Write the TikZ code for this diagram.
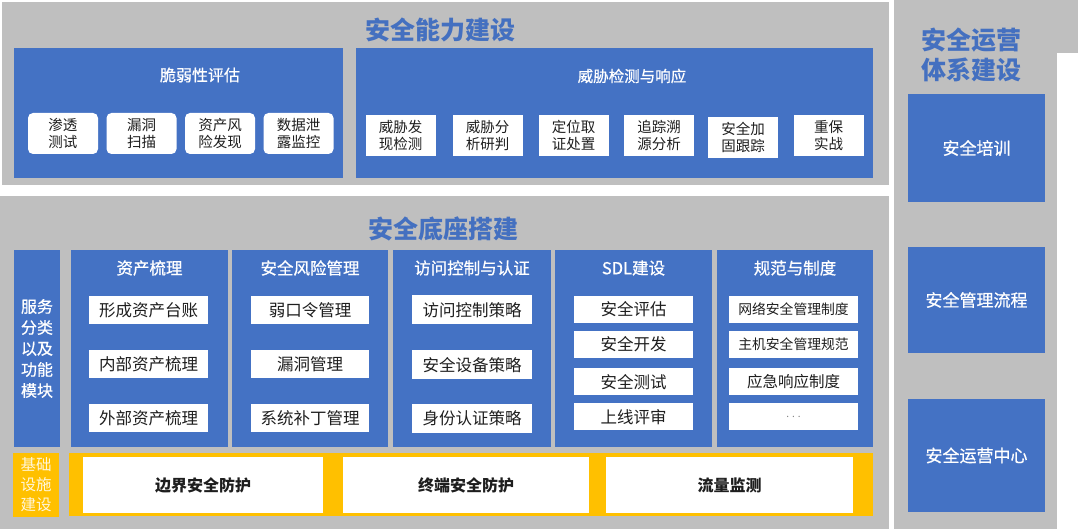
\documentclass[tikz,border=0pt]{standalone}
\usepackage{fontspec}
\setmainfont{Noto Sans CJK SC}
\newfontfamily\semibf[FakeBold=0.7]{Noto Sans CJK SC}
\definecolor{blu}{HTML}{4472C4}
\definecolor{gry}{HTML}{BFBFBF}
\definecolor{ylw}{HTML}{FFC000}
\definecolor{ttl}{HTML}{4470C0}
\definecolor{ink}{HTML}{1E1E1E}
\tikzset{
  panel/.style={fill=gry, draw=none, inner sep=0pt, outer sep=0pt},
  bluebox/.style={fill=blu, draw=none, text=white, inner sep=0pt, outer sep=0pt, align=center},
  wbox/.style={fill=white, draw=none, text=ink, inner sep=0pt, outer sep=0pt, align=center},
  ybox/.style={fill=ylw, draw=none, text=white, inner sep=0pt, outer sep=0pt, align=center},
  bigtitle/.style={text=ttl, inner sep=0pt, align=center, font=\bfseries\fontsize{25}{30}\selectfont},
  subtitle/.style={text=white, inner sep=0pt, font=\semibf\fontsize{16}{20}\selectfont},
  coltitle/.style={text=white, inner sep=0pt, font=\semibf\fontsize{16.5}{20}\selectfont},
  smallbox/.style={wbox, rounded corners=5pt, minimum width=70pt, minimum height=41pt, font=\fontsize{14.5}{17}\selectfont},
  sqbox/.style={wbox, minimum width=70pt, minimum height=41pt, font=\fontsize{14.5}{17}\selectfont},
  itembox/.style={wbox, minimum height=28pt, font=\fontsize{16.5}{20}\selectfont},
  basebox/.style={wbox, minimum height=56pt, font=\bfseries\fontsize{16}{20}\selectfont},
  opsbox/.style={bluebox, minimum width=137pt, font=\semibf\fontsize{17}{20}\selectfont}
}
\begin{document}
\begin{tikzpicture}[x=1pt,y=-1pt]
\useasboundingbox (0,0) rectangle (1080,529);
\fill[white] (0,0) rectangle (1080,529);

% ---------- top panel ----------
\node[panel, minimum width=887pt, minimum height=183pt] (toppanel) at (445.5,93.5) {};
\node[bigtitle] (t1) at (440,30) {安全能力建设};
\node[bluebox, minimum width=329pt, minimum height=130pt] (vuln) at (178.5,113) {};
\node[subtitle] (vulnt) at (200,75) {脆弱性评估};
\node[smallbox] (v1) at (63,133.5) {渗透\\测试};
\node[smallbox] (v2) at (141.5,133.5) {漏洞\\扫描};
\node[smallbox] (v3) at (220,133.5) {资产风\\险发现};
\node[smallbox] (v4) at (298.5,133.5) {数据泄\\露监控};

\node[bluebox, minimum width=517pt, minimum height=130pt] (threat) at (614.5,113) {};
\node[subtitle, font=\semibf\fontsize{15.5}{20}\selectfont] (threatt) at (632,76) {威胁检测与响应};
\node[sqbox] (r1) at (400.5,135.5) {威胁发\\现检测};
\node[sqbox] (r2) at (487.5,135.5) {威胁分\\析研判};
\node[sqbox] (r3) at (573.5,135.5) {定位取\\证处置};
\node[sqbox] (r4) at (659,135.5) {追踪溯\\源分析};
\node[sqbox] (r5) at (743,137.5) {安全加\\固跟踪};
\node[sqbox] (r6) at (828.5,135.5) {重保\\实战};

% ---------- middle panel ----------
\node[panel, minimum width=889pt, minimum height=333pt] (midpanel) at (444.5,362.5) {};
\node[bigtitle] (t2) at (443,229) {安全底座搭建};

\node[bluebox, minimum width=46pt, minimum height=197pt, font=\semibf\fontsize{16}{21}\selectfont] (svc) at (37,348.5) {服务\\分类\\以及\\功能\\模块};

\node[bluebox, minimum width=157pt, minimum height=197pt] (c1) at (149.5,348.5) {};
\node[bluebox, minimum width=156pt, minimum height=197pt] (c2) at (310,348.5) {};
\node[bluebox, minimum width=158pt, minimum height=197pt] (c3) at (472,348.5) {};
\node[bluebox, minimum width=157pt, minimum height=197pt] (c4) at (633.5,348.5) {};
\node[bluebox, minimum width=156pt, minimum height=197pt] (c5) at (795,348.5) {};

\node[coltitle] (c1t) at (149.5,268) {资产梳理};
\node[coltitle] (c2t) at (310,268) {安全风险管理};
\node[coltitle] (c3t) at (472,268) {访问控制与认证};
\node[coltitle] (c4t) at (633.5,268) {SDL建设};
\node[coltitle] (c5t) at (795,268) {规范与制度};

\node[itembox, minimum width=119pt] (a1) at (148.5,310) {形成资产台账};
\node[itembox, minimum width=119pt] (a2) at (148.5,364.5) {内部资产梳理};
\node[itembox, minimum width=119pt] (a3) at (148.5,418.5) {外部资产梳理};

\node[itembox, minimum width=118pt] (b1) at (310,310) {弱口令管理};
\node[itembox, minimum width=118pt] (b2) at (310,364.5) {漏洞管理};
\node[itembox, minimum width=118pt] (b3) at (310,418.5) {系统补丁管理};

\node[itembox, minimum width=120pt, minimum height=29pt] (d1) at (472,310) {访问控制策略};
\node[itembox, minimum width=120pt, minimum height=29pt] (d2) at (472,365) {安全设备策略};
\node[itembox, minimum width=120pt, minimum height=29pt] (d3) at (472,418.5) {身份认证策略};

\node[itembox, minimum width=119pt, minimum height=27pt] (e1) at (633.5,309.5) {安全评估};
\node[itembox, minimum width=119pt, minimum height=27pt] (e2) at (633.5,344.5) {安全开发};
\node[itembox, minimum width=119pt, minimum height=27pt] (e3) at (633.5,382) {安全测试};
\node[itembox, minimum width=119pt, minimum height=27pt] (e4) at (633.5,417) {上线评审};

\node[itembox, minimum width=129pt, minimum height=27pt, font=\fontsize{13.8}{17}\selectfont] (f1) at (793.5,309.5) {网络安全管理制度};
\node[itembox, minimum width=129pt, minimum height=27pt, font=\fontsize{13.8}{17}\selectfont] (f2) at (793.5,344.5) {主机安全管理规范};
\node[itembox, minimum width=129pt, minimum height=27pt, font=\fontsize{15.5}{17}\selectfont] (f3) at (793.5,382) {应急响应制度};
\node[itembox, minimum width=129pt, minimum height=27pt, text=gray, font=\fontsize{10}{12}\selectfont] (f4) at (793.5,417) {. . .};

% ---------- base layer ----------
\node[ybox, minimum width=46pt, minimum height=64pt, text=white!85!ylw, font=\fontsize{15.5}{20}\selectfont] (base) at (36,485) {基础\\设施\\建设};
\node[ybox, minimum width=804pt, minimum height=63pt] (bar) at (471,484.5) {};
\node[basebox, minimum width=240pt] (g1) at (203,485) {边界安全防护};
\node[basebox, minimum width=246pt] (g2) at (466,485) {终端安全防护};
\node[basebox, minimum width=247pt] (g3) at (729.5,485) {流量监测};

% ---------- right column ----------
\node[panel, minimum width=163pt, minimum height=529pt] (rightcol) at (975.5,264.5) {};
\fill[gry] (rightcol.north east) rectangle (1078,53);
\node[bigtitle, font=\bfseries\fontsize{25}{30}\selectfont] (t3) at (971,55) {安全运营\\体系建设};
\node[opsbox, minimum height=108pt] (o1) at (976.5,148) {安全培训};
\node[opsbox, minimum height=106pt] (o2) at (976.5,300) {安全管理流程};
\node[opsbox, minimum height=113pt] (o3) at (976.5,455.5) {安全运营中心};
\end{tikzpicture}
\end{document}
